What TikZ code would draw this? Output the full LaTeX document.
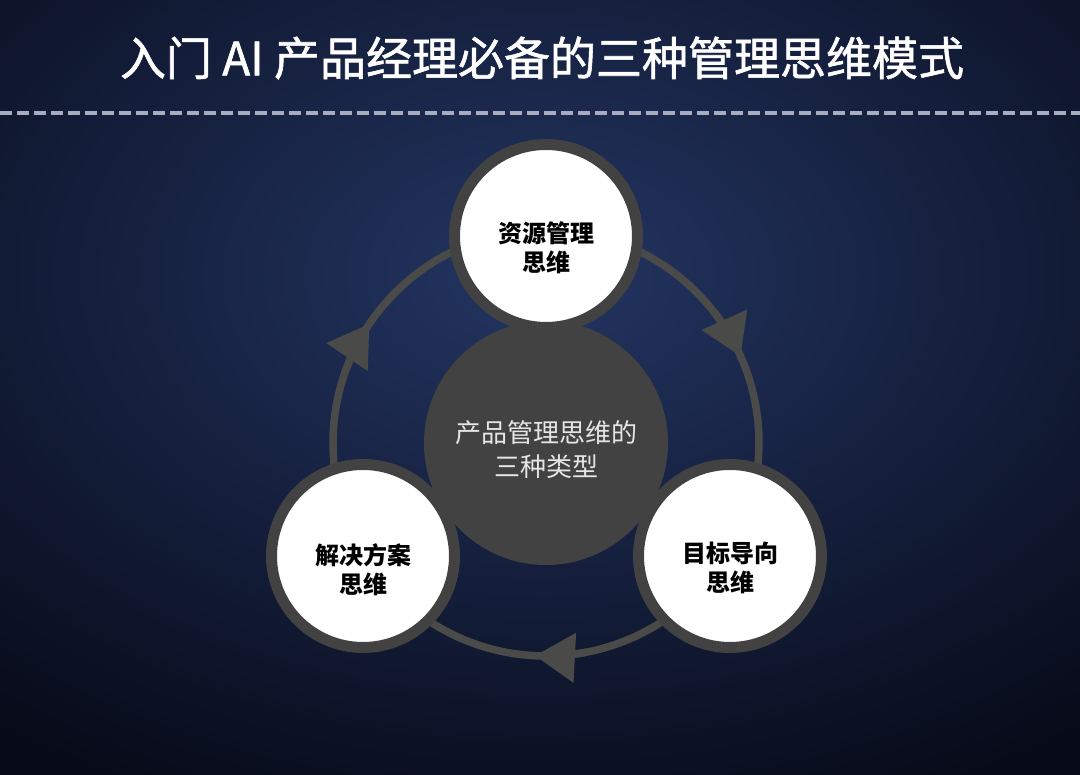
\documentclass[tikz,border=0pt]{standalone}
\usepackage{fontspec}
\setmainfont{Noto Sans CJK SC}
\newfontfamily\headfont[FakeBold=1.2]{Noto Sans CJK SC}
\usepackage{tikz}
\usetikzlibrary{arrows.meta, calc}
\definecolor{bgdark}{HTML}{070A18}
\definecolor{bgglow}{HTML}{233562}
\definecolor{ringgray}{HTML}{424242}
\definecolor{flowgray}{HTML}{4A4A48}
\definecolor{dashgray}{HTML}{A7ADBE}
\definecolor{coretxt}{HTML}{E6E6E6}
\tikzset{flowline/.style={draw=flowgray, line width=7.5pt}}
\tikzset{flowtip/.style={-{Triangle[length=40pt, width=48pt]}}}
\tikzset{thinker/.style={circle, draw=ringgray, line width=11pt, fill=white, minimum size=183pt, inner sep=0pt}}
\tikzset{thinktext/.style={font=\fontsize{24}{29}\selectfont\bfseries, text=black, align=center}}

\begin{document}
\begin{tikzpicture}[x=1pt, y=1pt]
		\useasboundingbox (0,0) rectangle (1080,775);
		% background
		\begin{scope}
			\clip (0,0) rectangle (1080,775);
			\fill[bgdark] (0,0) rectangle (1080,775);
			\shade[inner color=bgglow, outer color=bgdark] (540,500) ellipse [x radius=880, y radius=580];
		\end{scope}
		\node[text=white, font=\headfont\fontsize{46}{52}\selectfont] (title) at (542,717) {入门 AI 产品经理必备的三种管理思维模式};
		\coordinate (dashL) at (0,662);
		\coordinate (dashR) at (1080,662);
		\draw[dashgray, line width=4.5pt, dash pattern=on 12pt off 5pt] (dashL) -- (dashR);
		
		\coordinate (core) at (546,332);
		\draw[flowline] (core) circle (213);
		\foreach \a in {146, 24, -93}
			\draw[flowline, flowtip] ($(core)+(\a+14:213)$) arc [start angle=\a+14, end angle=\a, radius=213];
		\node[circle, fill=ringgray, minimum size=244pt, inner sep=0pt] (types) at (core) {};
		\node[text=coretxt, font=\fontsize{26}{34}\selectfont, align=center] (typestext) at ($(types)+(0,-7)$) {产品管理思维的\\三种类型};
		
		\node[thinker] (res) at (546,539) {};
		\node[thinktext] (restext) at ($(res)+(0,-12)$) {资源管理\\思维};
		\node[thinker] (goal) at (730,219) {};
		\node[thinktext] (goaltext) at ($(goal)+(0,-12)$) {目标导向\\思维};
		\node[thinker] (sol) at (363,219) {};
		\node[thinktext] (soltext) at ($(sol)+(0,-14)$) {解决方案\\思维};
	\end{tikzpicture}
\end{document}
